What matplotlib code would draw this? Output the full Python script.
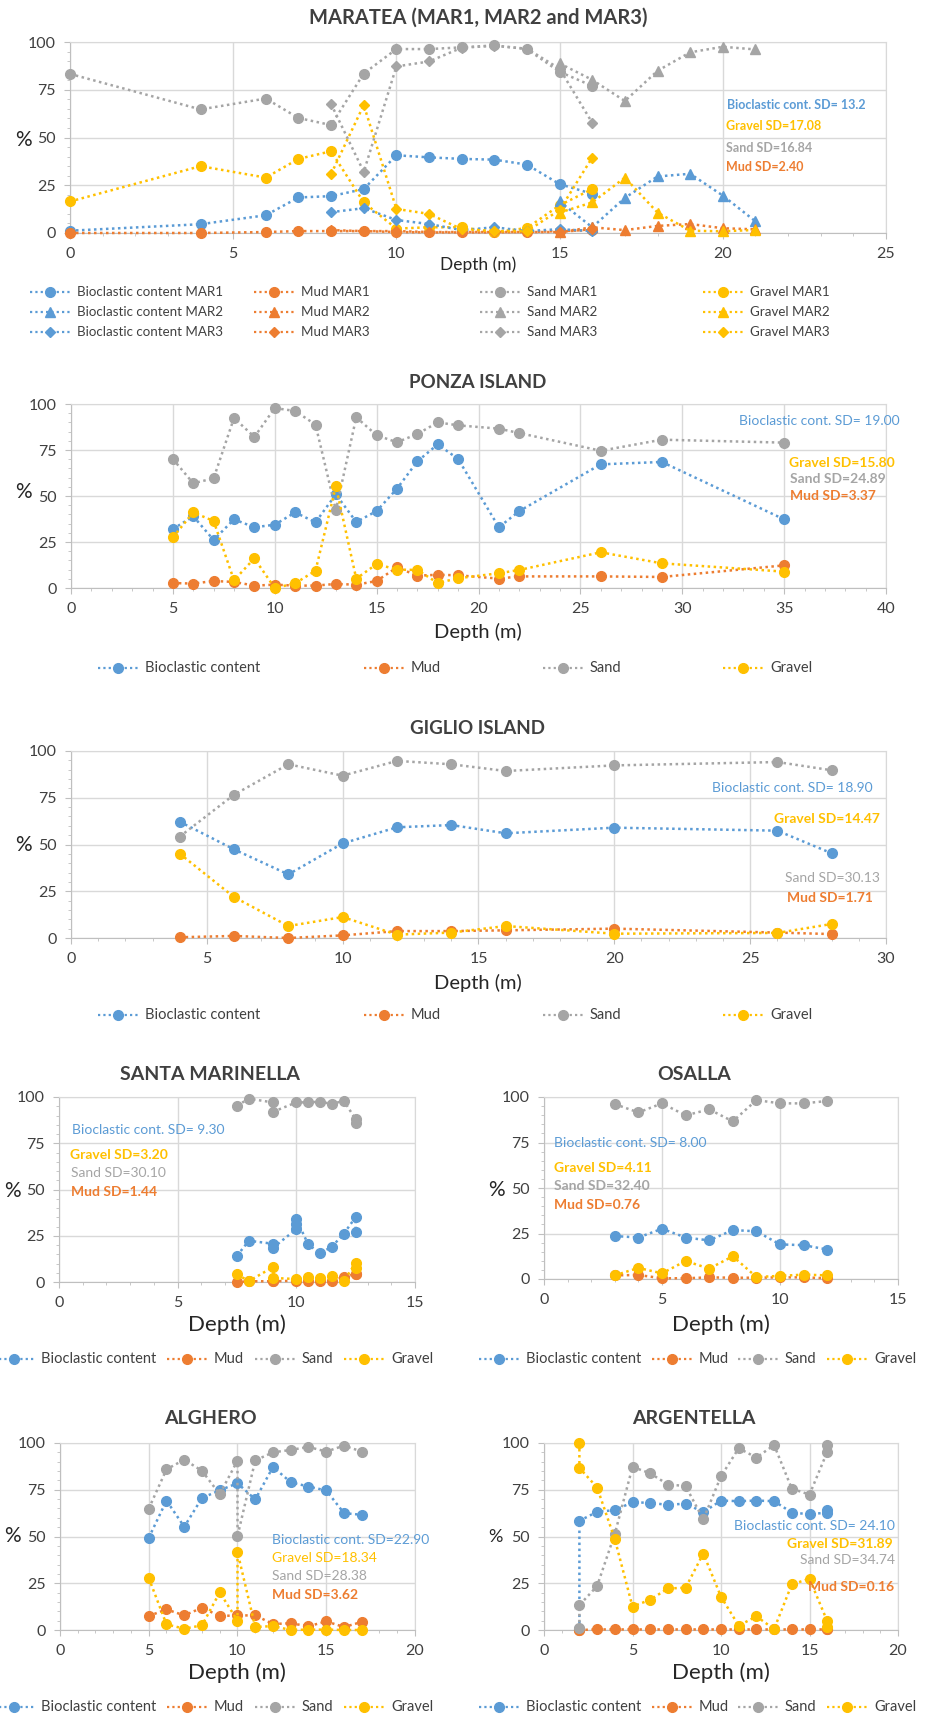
import numpy as np
import matplotlib
matplotlib.use('Agg')
import matplotlib.pyplot as plt
from matplotlib.lines import Line2D
from matplotlib.ticker import MultipleLocator

plt.rcParams['font.family'] = ['Lato', 'DejaVu Sans']

# colori stile Excel
BLUE = '#5B9BD5'
ORANGE = '#ED7D31'
GRAY = '#A5A5A5'
GOLD = '#FFC000'

# --- MARATEA ---
mar1_depth = [0, 4, 6, 7, 8, 9, 10, 11, 12, 13, 14, 15, 16]
mar1_bio = [1.2, 4.6, 9.3, 18.6, 19.3, 23, 40.7, 39.6, 38.8, 38.4, 35.8, 25.6, 20.5]
mar1_mud = [0, 0, 0.5, 1, 1, 1, 0.5, 0.3, 0.3, 0.3, 0.5, 1, 1.5]
mar1_sand = [83.3, 64.7, 70.4, 60.2, 56.5, 83.5, 96.3, 96.3, 97.2, 98.2, 96.3, 84.4, 77]
mar1_gravel = [16.5, 35, 29, 38.8, 42.8, 16, 2.3, 3, 3, 0.4, 2.6, 14.5, 23]

mar2_depth = [15, 16, 17, 18, 19, 20, 21]
mar2_bio = [16.5, 3, 18.4, 29.6, 31, 19.6, 6.1]
mar2_mud = [0.5, 3, 1.5, 3.7, 4.7, 2.5, 1.9]
mar2_sand = [88.8, 80.2, 69.1, 84.9, 94.6, 97.5, 96.1]
mar2_gravel = [10.7, 16, 29, 10.7, 1.2, 0.9, 1.6]

mar3_depth = [8, 9, 10, 11, 12, 13, 14, 15, 16]
mar3_bio = [10.9, 13, 6.8, 4.7, 1.5, 3, 1, 2, 1]
mar3_mud = [1.5, 1, 1, 0.5, 0.5, 0.5, 0.5, 0.5, 2]
mar3_sand = [67.5, 32, 87.2, 89.8, 97, 98, 96.5, 86, 57.7]
mar3_gravel = [30.9, 67, 12.6, 10, 2, 1, 1, 12, 39.5]

# --- PONZA ---
ponza_depth = [5, 6, 7, 8, 9, 10, 11, 12, 13, 14, 15, 16, 17, 18, 19, 21, 22, 26, 29, 35]
ponza_bio = [32, 39, 26.1, 37.3, 33, 34.4, 41.1, 35.7, 50.9, 35.9, 41.8, 54, 68.8, 78.1, 70.1, 33, 41.8, 67.2, 68.5, 37.3]
ponza_mud = [2.7, 2.4, 3.8, 3.3, 1.3, 1.8, 1.3, 1.3, 2.2, 1.8, 3.8, 11.2, 6.7, 7.2, 6.9, 5.1, 6.3, 6.3, 6, 12.3]
ponza_sand = [70.1, 56.9, 59.6, 92.4, 82.1, 97.8, 96.2, 88.8, 42.2, 92.8, 83, 79.2, 83.7, 90, 88.4, 86.6, 84.2, 74.6, 80.6, 79]
ponza_gravel = [27.5, 41.1, 36.4, 4.2, 16.1, 0, 2.5, 9.4, 55.3, 5.1, 13, 10, 9.8, 2.7, 5.3, 8, 9.8, 19.4, 13.4, 8.9]

# --- GIGLIO ---
giglio_depth = [4, 6, 8, 10, 12, 14, 16, 20, 26, 28]
giglio_bio = [62.2, 47.4, 34, 50.6, 59.2, 60.4, 56, 59, 57.4, 45.3]
giglio_mud = [0.4, 1.1, 0, 1.4, 3.7, 3.7, 4.1, 5, 2.9, 2.1]
giglio_sand = [54.2, 76.6, 92.9, 86.8, 94.7, 92.9, 89.3, 92.3, 94.1, 89.7]
giglio_gravel = [45.1, 21.9, 6.4, 11.2, 1.8, 2.9, 6.4, 2.3, 2.7, 7.5]

# --- SANTA MARINELLA ---
sm_bio_depth = [7.5, 8, 9, 9, 10, 10, 10, 10.5, 11, 11.5, 12, 12.5, 12.5]
sm_bio = [14.2, 22.3, 20.7, 18.3, 28.6, 31.5, 34, 20.3, 15.5, 19.1, 26.1, 35.1, 27.2]
sm_depth = [7.5, 8, 9, 9, 10, 10.5, 11, 11.5, 12, 12.5, 12.5]
sm_mud = [0, 0.4, 0.4, 0.4, 0.7, 0.4, 0.4, 0.7, 2.7, 4.3, 4.3]
sm_sand = [95.3, 99.1, 97.1, 91.9, 97.1, 97.1, 97.5, 96.2, 98, 87.9, 86.2]
sm_gravel = [4.1, 0.5, 7.9, 2.2, 1.6, 2.5, 2.2, 3.1, 0.4, 10.3, 7.6]

# --- OSALLA ---
osalla_depth = [3, 4, 5, 6, 7, 8, 9, 10, 11, 12]
osalla_bio = [23.6, 22.8, 27.6, 22.8, 21.2, 26.9, 26.2, 19, 18.6, 16.2]
osalla_mud = [2, 2.2, 0.4, 0.4, 0.9, 0.7, 0.7, 0.9, 0.9, 0.4]
osalla_sand = [96.1, 91.5, 96.5, 89.9, 93.2, 86.6, 98.3, 96.5, 96.5, 97.8]
osalla_gravel = [2, 6.1, 3.1, 9.9, 5.7, 12.5, 1.1, 1.7, 2.4, 2]

# --- ALGHERO ---
alghero_depth = [5, 6, 7, 8, 9, 10, 11, 12, 13, 14, 15, 16, 17]
alghero_bio = [49.3, 69.2, 55.2, 70.6, 74.7, 78.5, 69.8, 87.2, 79, 76.7, 74.6, 62.5, 61.6]
alghero_mud = [7.5, 11, 7.8, 11.9, 7.5, 7.8, 7.8, 3.2, 3.6, 2, 4.6, 1.6, 4.3]
alghero_sg_depth = [5, 6, 7, 8, 9, 10, 10, 11, 12, 13, 14, 15, 16, 17]
alghero_sand = [64.9, 85.9, 91.1, 85.1, 72.6, 90.6, 50.2, 90.7, 95, 96.3, 97.9, 95.4, 98.6, 95.4]
alghero_gravel = [27.8, 3, 0.7, 2.5, 20.1, 5, 41.6, 1.6, 2.1, 0, 0.2, 0.2, 0, 0]

# --- ARGENTELLA ---
arg_depth = [2, 2, 3, 4, 5, 6, 7, 8, 9, 10, 11, 12, 13, 14, 15, 16, 16]
arg_bio = [0.5, 58.4, 63.2, 64.1, 68.3, 68, 66.9, 67.6, 63, 69.2, 68.9, 69.2, 68.9, 62.8, 61.9, 62.8, 64.4]
arg_mud = [0, 0, 0.3, 0.3, 0.3, 0.3, 0.3, 0.3, 0.3, 0.3, 0.3, 0.3, 0.3, 0.3, 0.3, 0.3, 0.3]
arg_sand = [0.9, 13.3, 23.5, 51.4, 87.2, 83.8, 77.8, 77, 59.1, 82.2, 97.2, 92.2, 98.9, 75.6, 72.4, 95.2, 98.9]
arg_gravel = [100, 86.7, 76.2, 48.6, 12.5, 16.2, 22.2, 22.6, 40.9, 17.8, 2.3, 7.3, 0.5, 24.4, 27.4, 4.8, 1.4]

W, H = 933, 1716
fig = plt.figure(figsize=(W / 100, H / 100), dpi=100)
DOT = (0, (1, 1.4))


def px(x, y):
    return x / W, 1 - y / H


def make_ax(l, r, t, b, xmax, minor=1):
    ax = fig.add_axes([l / W, 1 - b / H, (r - l) / W, (b - t) / H])
    ax.set_xlim(0, xmax)
    ax.set_ylim(0, 100)
    ax.set_xticks(np.arange(0, xmax + 1, 5))
    ax.set_yticks([0, 25, 50, 75, 100])
    ax.xaxis.set_minor_locator(MultipleLocator(minor))
    ax.yaxis.set_minor_locator(MultipleLocator(5))
    ax.grid(True, which='major', color='#D9D9D9', lw=1)
    ax.set_axisbelow(True)
    for s in ax.spines.values():
        s.set_color('#D9D9D9')
    ax.spines['bottom'].set_color('#BFBFBF')
    ax.spines['left'].set_color('#BFBFBF')
    ax.tick_params(which='major', length=4, color='#BFBFBF', labelsize=11.5, labelcolor='#404040', pad=6)
    ax.tick_params(which='minor', length=2.5, color='#BFBFBF')
    return ax


def series(ax, x, y, color, marker='o', ms=7):
    ax.plot(x, y, ls=DOT, lw=1.8, color=color, marker=marker, ms=ms, clip_on=False, zorder=3)


def four(ax, x, bio, mud, sand, gravel, marker='o', ms=7, xm=None, xs=None):
    series(ax, x if xm is None else xm, bio, BLUE, marker, ms)
    series(ax, x, mud, ORANGE, marker, ms)
    series(ax, x if xs is None else xs, sand, GRAY, marker, ms)
    series(ax, x if xs is None else xs, gravel, GOLD, marker, ms)


def legend_item(x, y, color, label, marker='o', size=10):
    fig.add_artist(Line2D([(x - 20) / W, (x + 20) / W], [1 - y / H] * 2, transform=fig.transFigure,
                          ls=DOT, lw=1.6, color=color))
    fig.add_artist(Line2D([x / W], [1 - y / H], transform=fig.transFigure, ls='none',
                          marker=marker, ms=7 if marker != 'D' else 5, color=color))
    fig.text(*px(x + 27, y), label, va='center', ha='left', fontsize=size, color='#404040')


def sd_labels(items, size=9.5):
    for txt, x, y, ha, c, bold in items:
        fig.text(*px(x, y), txt, ha=ha, va='center', fontsize=size, color=c,
                 fontweight='bold' if bold else 'normal')


def title(x, y, txt, size=13):
    fig.text(*px(x, y), txt, ha='center', va='center', fontsize=size, fontweight='bold', color='#404040')


def pct(x, y, size=15):
    fig.text(*px(x, y), '%', ha='center', va='center', fontsize=size, color='#262626')


def depth(x, y, size=12):
    fig.text(*px(x, y), 'Depth (m)', ha='center', va='center', fontsize=size, color='#262626')


# ===== Maratea =====
ax = make_ax(70, 886, 42, 233, 25)
four(ax, mar1_depth, mar1_bio, mar1_mud, mar1_sand, mar1_gravel, 'o')
four(ax, mar2_depth, mar2_bio, mar2_mud, mar2_sand, mar2_gravel, '^', 7.5)
four(ax, mar3_depth, mar3_bio, mar3_mud, mar3_sand, mar3_gravel, 'D', 5.5)
title(478, 18, 'MARATEA (MAR1, MAR2 and MAR3)', 14.5)
pct(23, 140)
depth(478, 265, 12.5)
sd_labels([('Bioclastic cont. SD= 13.2', 727, 105, 'left', BLUE, True),
           ('Gravel SD=17.08', 726, 126, 'left', GOLD, True),
           ('Sand SD=16.84', 726, 148, 'left', GRAY, True),
           ('Mud SD=2.40', 726, 167, 'left', ORANGE, True)], 9)
cols = [(50, BLUE, 'Bioclastic content'), (274, ORANGE, 'Mud'), (500, GRAY, 'Sand'), (723, GOLD, 'Gravel')]
for row, (yy, mk, tag) in enumerate([(292, 'o', 'MAR1'), (312, '^', 'MAR2'), (332, 'D', 'MAR3')]):
    for x, c, lab in cols:
        legend_item(x, yy, c, lab + ' ' + tag, mk, 9.6)

# ===== Ponza =====
ax = make_ax(71, 886, 404, 588, 40)
four(ax, ponza_depth, ponza_bio, ponza_mud, ponza_sand, ponza_gravel)
title(478, 382, 'PONZA ISLAND', 13.5)
pct(23, 492)
depth(478, 632, 14.5)
sd_labels([('Bioclastic cont. SD= 19.00', 739, 421, 'left', BLUE, False),
           ('Gravel SD=15.80', 789, 463, 'left', GOLD, True),
           ('Sand SD=24.89', 790, 479, 'left', GRAY, True),
           ('Mud SD=3.37', 790, 496, 'left', ORANGE, True)], 10)
for x, c, lab in [(118, BLUE, 'Bioclastic content'), (384, ORANGE, 'Mud'), (563, GRAY, 'Sand'), (743, GOLD, 'Gravel')]:
    legend_item(x, 668, c, lab, 'o', 10.5)

# ===== Giglio =====
ax = make_ax(71, 886, 751, 938, 30)
four(ax, giglio_depth, giglio_bio, giglio_mud, giglio_sand, giglio_gravel)
title(478, 728, 'GIGLIO ISLAND', 13.5)
pct(23, 845)
depth(478, 983, 14.5)
sd_labels([('Bioclastic cont. SD= 18.90', 873, 788, 'right', BLUE, False),
           ('Gravel SD=14.47', 880, 819, 'right', GOLD, True),
           ('Sand SD=30.13', 880, 878, 'right', GRAY, False),
           ('Mud SD=1.71', 873, 898, 'right', ORANGE, True)], 10)
for x, c, lab in [(118, BLUE, 'Bioclastic content'), (384, ORANGE, 'Mud'), (563, GRAY, 'Sand'), (743, GOLD, 'Gravel')]:
    legend_item(x, 1015, c, lab, 'o', 10.5)

# ===== Santa Marinella =====
ax = make_ax(59, 415, 1097, 1282, 15)
four(ax, sm_depth, sm_bio, sm_mud, sm_sand, sm_gravel, xm=sm_bio_depth)
title(210, 1074, 'SANTA MARINELLA', 14)
pct(12, 1191)
depth(237, 1325, 16)
sd_labels([('Bioclastic cont. SD= 9.30', 72, 1130, 'left', BLUE, False),
           ('Gravel SD=3.20', 70, 1155, 'left', GOLD, True),
           ('Sand SD=30.10', 71, 1173, 'left', GRAY, False),
           ('Mud SD=1.44', 71, 1192, 'left', ORANGE, True)], 10)
for x, c, lab in [(14, BLUE, 'Bioclastic content'), (187, ORANGE, 'Mud'), (275, GRAY, 'Sand'), (364, GOLD, 'Gravel')]:
    legend_item(x, 1359, c, lab, 'o', 10.5)

# ===== Osalla =====
ax = make_ax(544, 898, 1097, 1279, 15)
four(ax, osalla_depth, osalla_bio, osalla_mud, osalla_sand, osalla_gravel)
title(694, 1074, 'OSALLA', 14)
pct(496, 1190)
depth(721, 1325, 16)
sd_labels([('Bioclastic cont. SD= 8.00', 554, 1143, 'left', BLUE, False),
           ('Gravel SD=4.11', 554, 1168, 'left', GOLD, True),
           ('Sand SD=32.40', 554, 1186, 'left', GRAY, True),
           ('Mud SD=0.76', 554, 1205, 'left', ORANGE, True)], 10)
for x, c, lab in [(499, BLUE, 'Bioclastic content'), (672, ORANGE, 'Mud'), (758, GRAY, 'Sand'), (847, GOLD, 'Gravel')]:
    legend_item(x, 1359, c, lab, 'o', 10.5)

# ===== Alghero =====
ax = make_ax(60, 415, 1443, 1630, 20)
four(ax, alghero_depth, alghero_bio, alghero_mud, alghero_sand, alghero_gravel, xs=alghero_sg_depth)
title(210, 1419, 'ALGHERO', 14)
pct(12, 1536)
depth(237, 1673, 16)
sd_labels([('Bioclastic cont. SD=22.90', 272, 1540, 'left', BLUE, False),
           ('Gravel SD=18.34', 272, 1558, 'left', GOLD, False),
           ('Sand SD=28.38', 272, 1576, 'left', GRAY, False),
           ('Mud SD=3.62', 272, 1595, 'left', ORANGE, True)], 10)
for x, c, lab in [(14, BLUE, 'Bioclastic content'), (187, ORANGE, 'Mud'), (275, GRAY, 'Sand'), (364, GOLD, 'Gravel')]:
    legend_item(x, 1707, c, lab, 'o', 10.5)

# ===== Argentella =====
ax = make_ax(544, 898, 1443, 1630, 20)
four(ax, arg_depth, arg_bio, arg_mud, arg_sand, arg_gravel)
title(694, 1419, 'ARGENTELLA', 14)
pct(495, 1537, 13)
depth(721, 1673, 16)
sd_labels([('Bioclastic cont. SD= 24.10', 895, 1526, 'right', BLUE, False),
           ('Gravel SD=31.89', 893, 1544, 'right', GOLD, True),
           ('Sand SD=34.74', 895, 1560, 'right', GRAY, False),
           ('Mud SD=0.16', 894, 1587, 'right', ORANGE, True)], 10)
for x, c, lab in [(499, BLUE, 'Bioclastic content'), (672, ORANGE, 'Mud'), (758, GRAY, 'Sand'), (847, GOLD, 'Gravel')]:
    legend_item(x, 1707, c, lab, 'o', 10.5)

fig.savefig('out.png', dpi=100)
